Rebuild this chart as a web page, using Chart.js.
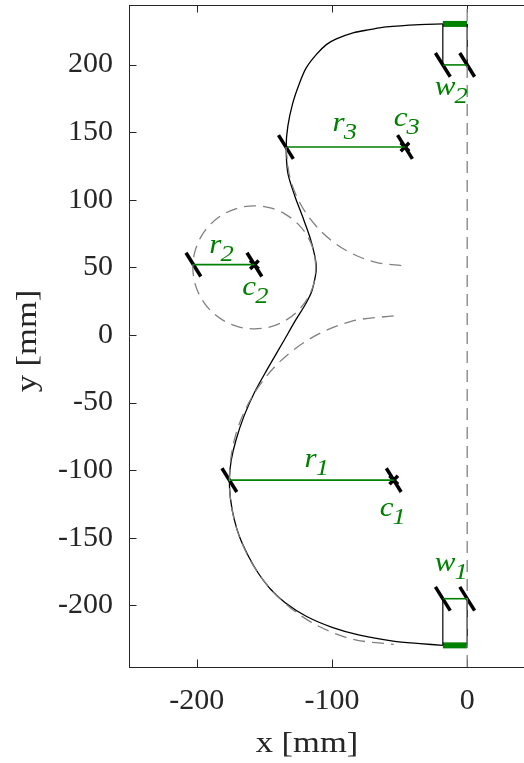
<!DOCTYPE html>
<html><head><meta charset="utf-8">
<script src="https://cdn.jsdelivr.net/npm/chart.js@4/dist/chart.umd.min.js"></script>
<style>html,body{margin:0;padding:0;background:#fff;overflow:hidden}</style>
</head><body>
<canvas id="c" width="524" height="763"></canvas>
<script>
// ---- axis ranges & ticks ----
const xRange = [-250, 42];
const yRange = [-245.5, 244];
const xTicks = [-200, -100, 0];
const yTicks = [-200, -150, -100, -50, 0, 50, 100, 150, 200];

// ---- main profile (black) ----
const profileX = [-18, -35, -59.7, -72, -84.4, -96.7, -104.1, -111.6, -119, -123.9, -128.9, -132.6, -133.8, -132.6, -127.5, -121.5, -116.5, -113, -111.5, -112.5, -115, -120, -126.5, -136, -147, -157, -165, -171, -174.5, -175.8, -175, -172.3, -168, -161.5, -154.5, -145.3, -134.5, -119, -99.3, -79.5, -54.8, -35, -18];
const profileY = [230, 229.5, 227.8, 225.8, 223.4, 218.9, 214.7, 207.3, 197.5, 186.4, 171.6, 154.3, 139.5, 119.9, 103, 87, 73, 60, 50, 42, 32, 22, 11.5, -5, -24, -42, -60, -78, -93, -107, -121, -136, -150, -164, -176, -188, -198, -208, -216.4, -222, -226.3, -228.2, -229.5];

// ---- dashed construction circles (grey) ----
const arc3X = [-134, -131, -122.2, -108.2, -90, -68.8, -46];
const arc3Y = [139, 116.2, 95, 76.8, 62.8, 54, 51];
const arc1X = [-54.3, -85.7, -115.1, -140.2, -159.5, -171.7, -175.8, -171.7, -159.5, -140.2, -115.1, -85.7, -54.3];
const arc1Y = [14.2, 10.1, -2.1, -21.4, -46.6, -75.9, -107.3, -138.7, -168.1, -193.2, -212.5, -224.7, -228.8];
const circ2X = [-111.8, -113.35, -117.9, -125.13, -134.55, -145.52, -157.3, -169.08, -180.05, -189.47, -196.7, -201.25, -202.8, -201.25, -196.7, -189.47, -180.05, -169.08, -157.3, -145.52, -134.55, -125.13, -117.9, -113.35, -111.8];
const circ2Y = [50, 61.78, 72.75, 82.17, 89.4, 93.95, 95.5, 93.95, 89.4, 82.17, 72.75, 61.78, 50, 38.22, 27.25, 17.83, 10.6, 6.05, 4.5, 6.05, 10.6, 17.83, 27.25, 38.22, 50];
const symX = [0, 0];
const symY = [-245.5, 244];

// ---- dimension lines (green) : w2, r3, r2, r1, w1 ----
const dimX = [[-18, 0], [-134, -46], [-202.4, -157.3], [-175.8, -54.3], [-18, 0]];
const dimY = [[199.7, 199.7], [139, 139], [52, 52], [-107.3, -107.3], [-195, -195]];
// thick green bars
const barX = [[-18, 0], [-18, 0]];
const barY = [[230, 230], [-229.5, -229.5]];
// thin black ties of the width boxes
const tieX = [[-18, -18], [0, 0], [-18, -18], [0, 0]];
const tieY = [[230, 199.7], [230, 199.7], [-229.5, -195], [-229.5, -195]];
// slash ends of the dimension lines
const slashX = [-18, 0, -134, -46, -202.4, -157.3, -175.8, -54.3, -18, 0];
const slashY = [199.7, 199.7, 139, 139, 52, 52, -107.3, -107.3, -195, -195];
// centres c1, c2, c3
const centreX = [-54.3, -157.3, -46];
const centreY = [-107.3, 52, 139];

// ---- annotation labels ----
const labelMain = ['w', 'r', 'c', 'r', 'c', 'r', 'c', 'w'];
const labelSub  = ['2', '3', '3', '2', '2', '1', '1', '1'];
const labelX = [-23.9, -99.5, -54.3, -190.6, -166.2, -120.2, -64.7, -23.9];
const labelY = [177.8, 150.6, 154.8, 60.8, 29.9, -97.9, -134.1, -174.8];

const GREEN = '#008000', GREY = '#808080', AXIS = '#262626';
const pts = (xs, ys) => xs.map((v, i) => ({x: v, y: ys[i]}));
const lineDs = (xs, ys, color, width, extra) => Object.assign({
  data: pts(xs, ys), showLine: true, borderColor: color, borderWidth: width,
  pointRadius: 0, fill: false, tension: 0
}, extra || {});

const datasets = [];
datasets.push(lineDs(symX, symY, GREY, 1.3, {borderDash: [12, 7]}));
datasets.push(lineDs(circ2X, circ2Y, GREY, 1.3, {borderDash: [12, 7], tension: 0.33}));
datasets.push(lineDs(arc3X, arc3Y, GREY, 1.3, {borderDash: [12, 7], tension: 0.33}));
datasets.push(lineDs(arc1X, arc1Y, GREY, 1.3, {borderDash: [12, 7], tension: 0.33}));
datasets.push(lineDs(profileX, profileY, '#000', 1.3, {tension: 0.3}));
tieX.forEach((xs, i) => datasets.push(lineDs(xs, tieY[i], '#000', 1.2)));
dimX.forEach((xs, i) => datasets.push(lineDs(xs, dimY[i], GREEN, 1.6)));
barX.forEach((xs, i) => datasets.push(lineDs(xs, barY[i], GREEN, 6)));
datasets.push({data: pts(slashX, slashY), showLine: false, pointStyle: 'line', rotation: 58,
  pointRadius: 14, borderColor: '#000', borderWidth: 3.5});
datasets.push({data: pts(centreX, centreY), showLine: false, pointStyle: 'crossRot',
  pointRadius: 6, borderColor: '#000', borderWidth: 3.5});

const SX = 1.15;
const decor = {
  id: 'decor',
  beforeDatasetsDraw(chart) {
    const {ctx, chartArea: a, scales: {x, y}} = chart;
    ctx.save();
    ctx.strokeStyle = AXIS; ctx.lineWidth = 1;
    ctx.beginPath();
    ctx.moveTo(a.left, a.top + 0.5); ctx.lineTo(a.right, a.top + 0.5);
    const L = 7.5;
    xTicks.forEach(v => {
      const px = Math.round(x.getPixelForValue(v)) + 0.5;
      ctx.moveTo(px, a.bottom); ctx.lineTo(px, a.bottom - L);
      ctx.moveTo(px, a.top); ctx.lineTo(px, a.top + L);
    });
    yTicks.forEach(v => {
      const py = Math.round(y.getPixelForValue(v)) + 0.5;
      ctx.moveTo(a.left, py); ctx.lineTo(a.left + L, py);
    });
    ctx.stroke();
    // tick labels
    ctx.fillStyle = AXIS;
    ctx.font = '30px "Liberation Serif"';
    ctx.textBaseline = 'middle';
    ctx.textAlign = 'center';
    xTicks.forEach(v => ctx.fillText(String(v), x.getPixelForValue(v), a.bottom + 34));
    ctx.textAlign = 'right';
    yTicks.forEach(v => ctx.fillText(String(v), a.left - 16, y.getPixelForValue(v)));
    ctx.restore();
  },
  afterDraw(chart) {
    const {ctx, chartArea: a, scales: {x, y}} = chart;
    ctx.save();
    ctx.fillStyle = AXIS;
    ctx.font = '30px "Liberation Serif"';
    ctx.textAlign = 'center'; ctx.textBaseline = 'alphabetic';
    // x title
    ctx.save(); ctx.translate(a.left + 178, a.bottom + 85); ctx.scale(SX, 1);
    ctx.fillText('x [mm]', 0, 0); ctx.restore();
    // y title
    ctx.save(); ctx.translate(36, a.top + 336); ctx.rotate(-Math.PI / 2); ctx.scale(SX, 1);
    ctx.fillText('y [mm]', 0, 0); ctx.restore();
    // annotation labels
    ctx.fillStyle = GREEN; ctx.textAlign = 'left';
    const fm = 'italic 27px "Liberation Serif"', fs = 'italic 23px "Liberation Serif"';
    labelMain.forEach((m, i) => {
      const px = x.getPixelForValue(labelX[i]), py = y.getPixelForValue(labelY[i]);
      ctx.font = fm;
      const wm = ctx.measureText(m).width * SX;
      ctx.save(); ctx.translate(px, py); ctx.scale(SX, 1); ctx.fillText(m, 0, 0); ctx.restore();
      ctx.font = fs;
      ctx.save(); ctx.translate(px + wm - 1, py + 8); ctx.scale(SX, 1); ctx.fillText(labelSub[i], 0, 0); ctx.restore();
    });
    ctx.restore();
  }
};

new Chart(document.getElementById('c'), {
  type: 'scatter',
  data: {datasets},
  options: {
    responsive: false, animation: false, events: [],
    layout: {autoPadding: false, padding: {top: 5, left: 0, right: 0, bottom: 0}},
    plugins: {legend: {display: false}, tooltip: {enabled: false}},
    scales: {
      x: {
        type: 'linear', min: xRange[0], max: xRange[1],
        afterBuildTicks: s => { s.ticks = xTicks.map(v => ({value: v})); },
        afterFit: s => { s.height = 96; },
        grid: {display: false, drawTicks: false},
        border: {display: true, color: AXIS, width: 1},
        ticks: {display: false}
      },
      y: {
        type: 'linear', min: yRange[0], max: yRange[1],
        afterBuildTicks: s => { s.ticks = yTicks.map(v => ({value: v})); },
        afterFit: s => { s.width = 129; },
        grid: {display: false, drawTicks: false},
        border: {display: true, color: AXIS, width: 1},
        ticks: {display: false}
      }
    }
  },
  plugins: [decor]
});
</script>
</body></html>
